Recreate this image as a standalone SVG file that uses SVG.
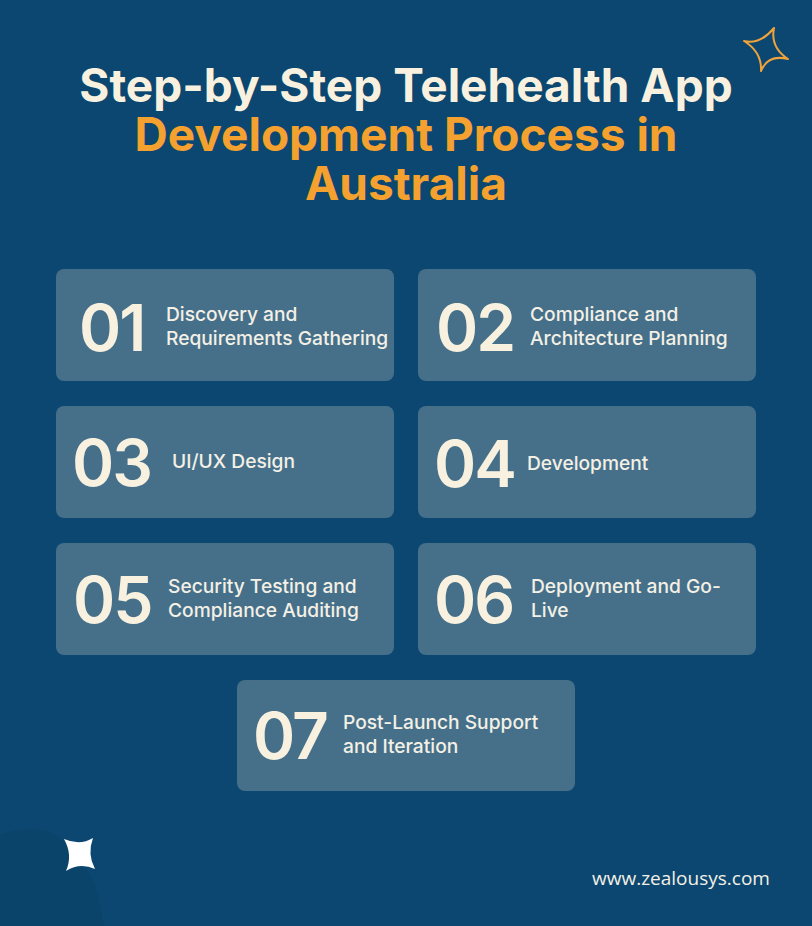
<svg xmlns="http://www.w3.org/2000/svg" width="812" height="926" viewBox="0 0 812 926">
<style>
.card{fill:#46708a;}
.num{font-family:Inter,"Noto Sans",sans-serif;font-weight:600;font-size:64px;fill:#f8f1df;letter-spacing:-2px;}
.lbl{font-family:Inter,"Noto Sans",sans-serif;font-weight:500;font-size:19.2px;fill:#f4f0e6;}
.t1{font-family:Inter,"Noto Sans",sans-serif;font-weight:700;font-size:46px;fill:#f8f1df;text-anchor:middle;}
.t2{font-family:Inter,"Noto Sans",sans-serif;font-weight:700;font-size:46px;fill:#f4a12f;text-anchor:middle;}
</style>
<rect width="812" height="926" fill="#0b4770"/>
<path d="M0 835 C20 828 40 826 58 836 C70 845 72 860 84 868 C96 878 100 900 104 926 L0 926 Z" fill="#0a4166" opacity="0.45"/>
<g id="title">
<text class="t1" x="406" y="102">Step-by-Step Telehealth App</text>
<text class="t2" x="406" y="151">Development Process in</text>
<text class="t2" x="406" y="200">Australia</text>
</g>
<g id="star-outline">
<path d="M774 28 Q760 45 744 41 Q762 52 761 71 Q768 54 788 59 Q770 47 774 28 Z" fill="none" stroke="#f0a33a" stroke-width="2" stroke-linejoin="round"/>
</g>
<g id="step01">
<rect class="card" x="56" y="269" width="338" height="112" rx="8"/>
<text class="num" x="79" y="351">01</text>
<text class="lbl" x="166" y="321">Discovery and</text>
<text class="lbl" x="166" y="345">Requirements Gathering</text>
</g>
<g id="step02">
<rect class="card" x="418" y="269" width="338" height="112" rx="8"/>
<text class="num" x="436" y="351">02</text>
<text class="lbl" x="530" y="321">Compliance and</text>
<text class="lbl" x="530" y="345">Architecture Planning</text>
</g>
<g id="step03">
<rect class="card" x="56" y="406" width="338" height="112" rx="8"/>
<text class="num" x="72" y="486">03</text>
<text class="lbl" x="172" y="468">UI/UX Design</text>
</g>
<g id="step04">
<rect class="card" x="418" y="406" width="338" height="112" rx="8"/>
<text class="num" x="434" y="487">04</text>
<text class="lbl" x="527" y="470">Development</text>
</g>
<g id="step05">
<rect class="card" x="56" y="543" width="338" height="112" rx="8"/>
<text class="num" x="73" y="623">05</text>
<text class="lbl" x="168" y="593">Security Testing and</text>
<text class="lbl" x="168" y="617">Compliance Auditing</text>
</g>
<g id="step06">
<rect class="card" x="418" y="543" width="338" height="112" rx="8"/>
<text class="num" x="434" y="623">06</text>
<text class="lbl" x="531" y="593">Deployment and Go-</text>
<text class="lbl" x="531" y="617">Live</text>
</g>
<g id="step07">
<rect class="card" x="237" y="680" width="338" height="111" rx="8"/>
<text class="num" x="253" y="759">07</text>
<text class="lbl" x="343" y="729">Post-Launch Support</text>
<text class="lbl" x="343" y="753">and Iteration</text>
</g>
<g id="connectors"></g>
<g id="star-filled">
<path d="M64 839 Q80 846 93 838 Q87 854 95 869 Q80 862 66 871 Q73 855 64 839 Z" fill="#ffffff"/>
</g>
<text x="592" y="885" font-family="'Open Sans','Noto Sans',sans-serif" font-size="19" fill="#f4f0e6">www.zealousys.com</text>
</svg>
